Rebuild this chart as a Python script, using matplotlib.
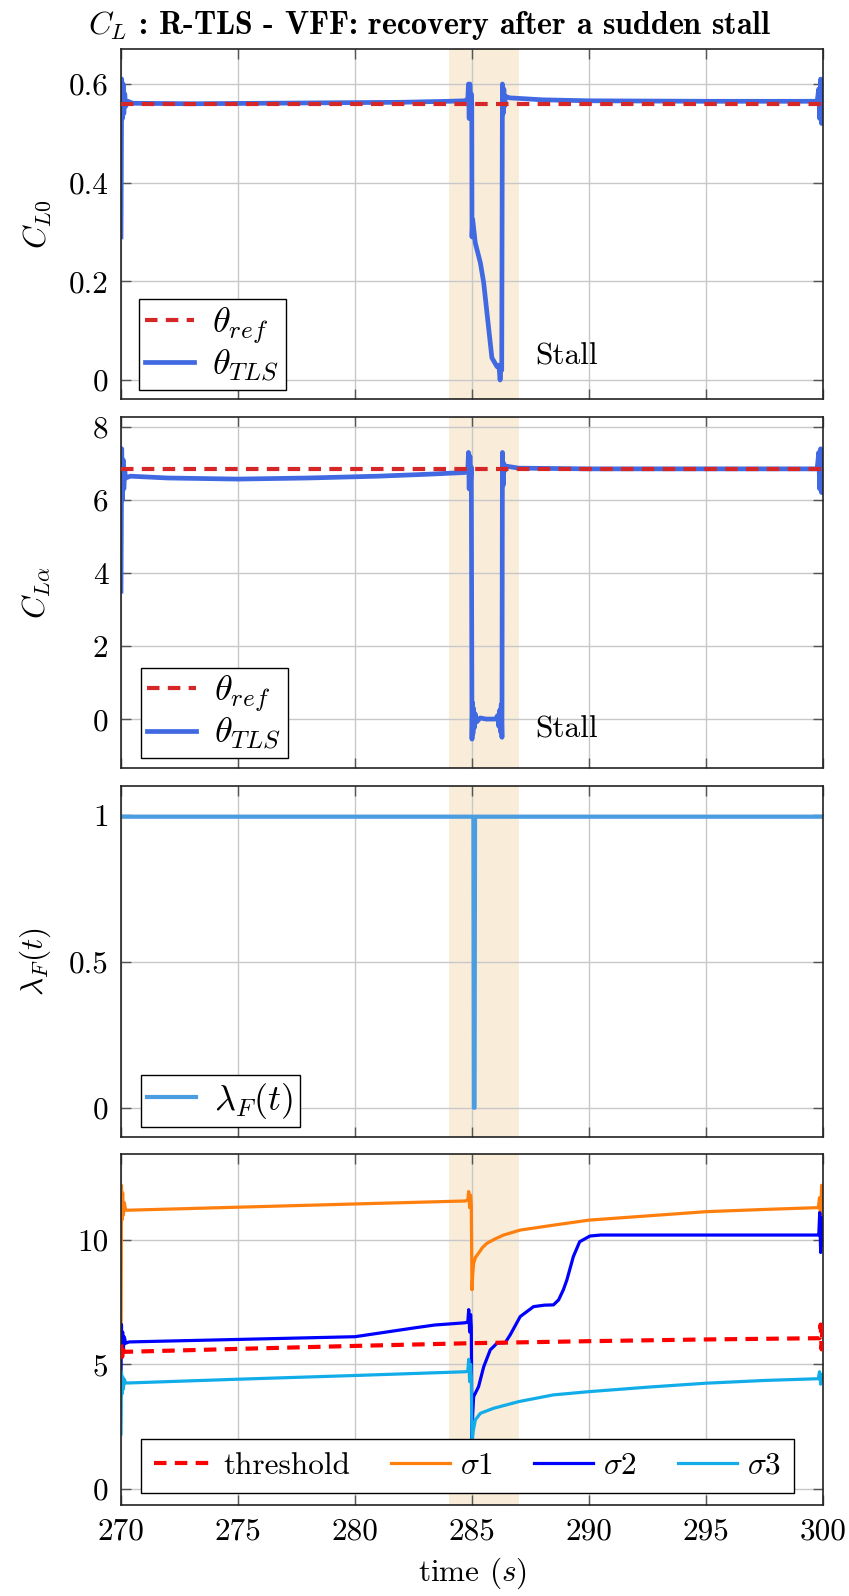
import matplotlib

matplotlib.use("Agg")

from matplotlib import pyplot as plt  # noqa: E402

plt.rcParams["font.family"] = "serif"
plt.rcParams["font.serif"] = ["cmr10", "DejaVu Serif"]
plt.rcParams["mathtext.fontset"] = "cm"
plt.rcParams["axes.formatter.use_mathtext"] = True

# --- data --------------------------------------------------------------
STALL_SPAN = (284.0, 287.0)

t_cl0 = [270.0, 270.03, 270.06, 270.09, 270.12, 270.16, 270.2, 270.3, 270.5, 273.0,
         276.0, 279.0, 282.0, 284.0, 284.7, 284.82, 284.85, 284.88, 284.91, 284.94,
         284.97, 284.99, 285.0, 285.03, 285.14, 285.36, 285.5, 285.64, 285.85, 286.07,
         286.15, 286.2, 286.24, 286.27, 286.3, 286.33, 286.36, 286.39, 286.43, 286.6,
         288.0, 290.0, 295.0, 299.75, 299.82, 299.86, 299.9, 299.94, 299.97, 300.0]
cl0_tls = [0.29, 0.61, 0.53, 0.60, 0.54, 0.58, 0.555, 0.565, 0.561, 0.560,
           0.561, 0.562, 0.563, 0.565, 0.566, 0.57, 0.60, 0.53, 0.60, 0.54,
           0.58, 0.56, 0.29, 0.325, 0.278, 0.237, 0.197, 0.136, 0.045, 0.027,
           0.03, 0.0, 0.025, 0.02, 0.60, 0.54, 0.59, 0.555, 0.575, 0.572,
           0.568, 0.566, 0.565, 0.565, 0.59, 0.53, 0.61, 0.52, 0.60, 0.56]
cl0_ref = 0.56

t_cla = [270.0, 270.03, 270.06, 270.09, 270.12, 270.16, 270.2, 270.4, 272.0, 275.0,
         278.0, 281.0, 283.0, 284.7, 284.82, 284.85, 284.88, 284.91, 284.94, 284.97,
         285.0, 285.02, 285.04, 285.06, 285.09, 285.13, 285.2, 285.35, 285.6, 286.0,
         286.1, 286.15, 286.19, 286.22, 286.25, 286.28, 286.3, 286.33, 286.36, 286.4,
         286.5, 287.0, 290.0, 295.0, 299.75, 299.82, 299.86, 299.9, 299.94, 299.97, 300.0]
cla_tls = [3.5, 7.4, 6.0, 7.1, 6.3, 6.8, 6.6, 6.65, 6.6, 6.57,
           6.6, 6.65, 6.7, 6.75, 6.8, 7.3, 6.3, 7.2, 6.5, 6.9,
           -0.55, 0.45, -0.4, 0.3, -0.25, 0.15, -0.08, 0.03, 0.0, 0.0,
           0.1, -0.2, 0.25, -0.35, 0.4, -0.5, 7.3, 6.4, 7.0, 6.8,
           6.92, 6.87, 6.85, 6.85, 6.85, 7.3, 6.3, 7.4, 6.2, 7.1, 6.8]
cla_ref = 6.85

t_lam = [270.0, 285.06, 285.08, 285.11, 285.13, 300.0]
lam_f = [0.995, 0.995, 0.0, 0.0, 0.995, 0.995]

t_thr = [270.0, 270.02, 270.05, 270.08, 270.12, 275.0, 280.0, 285.0, 290.0, 295.0,
         299.85, 299.9, 299.94, 299.97, 300.0]
thr = [5.3, 5.9, 5.3, 5.7, 5.5, 5.62, 5.74, 5.85, 5.93, 6.0,
       6.05, 6.6, 5.6, 6.5, 6.05]

t_s1 = [270.0, 270.02, 270.04, 270.07, 270.1, 270.14, 270.2, 270.35, 275.0, 280.0,
        284.7, 284.82, 284.86, 284.9, 284.94, 284.97, 285.0, 285.03, 285.07, 285.15,
        285.28, 285.45, 285.64, 286.0, 286.35, 287.06, 288.5, 290.0, 292.5, 295.0,
        297.5, 299.7, 299.8, 299.85, 299.9, 299.94, 299.97, 300.0]
s1 = [5.6, 12.2, 10.8, 11.9, 11.0, 11.5, 11.2, 11.2, 11.32, 11.45,
      11.57, 11.6, 11.95, 11.3, 11.8, 11.4, 8.0, 8.6, 9.07, 9.3,
      9.47, 9.7, 9.87, 10.05, 10.2, 10.4, 10.6, 10.8, 10.97, 11.14,
      11.23, 11.3, 11.3, 11.7, 10.8, 12.2, 10.9, 11.6]

t_s2 = [270.0, 270.02, 270.04, 270.07, 270.1, 270.14, 270.2, 270.35, 275.0, 280.0,
        282.5, 283.4, 284.7, 284.82, 284.86, 284.9, 284.94, 284.97, 285.0, 285.03,
        285.07, 285.28, 285.5, 285.78, 286.07, 286.42, 286.63, 287.06, 287.63, 288.1,
        288.48, 288.7, 288.9, 289.05, 289.33, 289.6, 290.04, 290.5, 295.0, 299.75,
        299.82, 299.86, 299.9, 299.94, 299.97, 300.0]
s2 = [4.6, 6.6, 5.3, 6.3, 5.6, 6.1, 5.85, 5.9, 6.0, 6.11,
      6.46, 6.58, 6.67, 6.7, 7.2, 6.3, 7.0, 6.5, 1.84, 3.0,
      3.7, 4.1, 4.9, 5.58, 5.85, 5.87, 6.18, 6.92, 7.32, 7.38,
      7.39, 7.59, 7.99, 8.38, 9.33, 9.93, 10.16, 10.2, 10.2, 10.2,
      10.2, 11.1, 9.5, 10.9, 9.8, 10.4]

t_s3 = [270.0, 270.02, 270.04, 270.07, 270.1, 270.14, 270.2, 270.35, 275.0, 280.0,
        284.7, 284.82, 284.86, 284.9, 284.94, 284.97, 285.0, 285.05, 285.14, 285.36,
        285.92, 287.0, 288.48, 290.0, 292.5, 295.0, 297.5, 299.8, 299.85, 299.9,
        299.94, 300.0]
s3 = [2.2, 4.7, 3.8, 4.5, 4.0, 4.4, 4.25, 4.25, 4.4, 4.55,
      4.7, 4.72, 5.2, 4.3, 5.0, 4.5, 1.8, 2.3, 2.76, 3.03,
      3.23, 3.5, 3.77, 3.9, 4.08, 4.24, 4.35, 4.42, 4.7, 4.2,
      4.6, 4.4]

x_ticks = [270, 275, 280, 285, 290, 295, 300]
# -----------------------------------------------------------------------

TLS_BLUE = "#4169e1"
REF_RED = "#d62728"
SHADE = "#f9ecd9"
FS = 22.5

fig = plt.figure(figsize=(8.49, 15.96), dpi=100)
left, width = 121 / 849, 702 / 849
panel_px = [(49, 399), (417, 768), (786, 1137), (1154, 1505)]
axes = []
for top, bottom in panel_px:
    axes.append(fig.add_axes([left, 1 - bottom / 1596, width, (bottom - top) / 1596]))


def style(ax, yticks, ylabels, ylim):
    ax.set_xlim(270, 300)
    ax.set_ylim(*ylim)
    ax.set_xticks(x_ticks)
    ax.set_yticks(yticks)
    ax.set_yticklabels(ylabels)
    ax.axvspan(*STALL_SPAN, color=SHADE, zorder=0.2, lw=0)
    ax.set_axisbelow(True)
    ax.grid(True, color="#c8c8c8", linewidth=1.0)
    ax.tick_params(direction="in", top=True, right=True, length=7, width=1,
                   color="#555555", labelsize=FS, pad=9)
    for spine in ax.spines.values():
        spine.set_color("#222222")
        spine.set_linewidth(1.2)
    ax.yaxis.set_label_coords(-0.097, 0.5)


leg_kw = dict(loc="lower left", fontsize=26, fancybox=False, edgecolor="black",
              framealpha=1, borderaxespad=0, handlelength=1.35, labelspacing=0.05,
              borderpad=0.17, handletextpad=0.5)

# C_L0
ax = axes[0]
ax.plot([270, 300], [cl0_ref, cl0_ref], color=REF_RED, lw=3, ls=(0, (3, 2)),
        label=r"$\theta_{ref}$", zorder=3)
ax.plot(t_cl0, cl0_tls, color=TLS_BLUE, lw=3.4, label=r"$\theta_{TLS}$", zorder=2)
style(ax, [0, 0.2, 0.4, 0.6], ["0", "0.2", "0.4", "0.6"], (-0.0385, 0.671))
ax.set_xticklabels([])
ax.set_ylabel(r"$C_{L0}$", fontsize=FS)
ax.text(287.7, 0.047, "Stall", fontsize=FS, va="center")
leg = ax.legend(bbox_to_anchor=(0.026, 0.026), **leg_kw)
leg.get_frame().set_linewidth(1)

# C_Lalpha
ax = axes[1]
ax.plot([270, 300], [cla_ref, cla_ref], color=REF_RED, lw=3, ls=(0, (3, 2)),
        label=r"$\theta_{ref}$", zorder=3)
ax.plot(t_cla, cla_tls, color=TLS_BLUE, lw=3.4, label=r"$\theta_{TLS}$", zorder=2)
style(ax, [0, 2, 4, 6, 8], ["0", "2", "4", "6", "8"], (-1.34, 8.27))
ax.set_xticklabels([])
ax.set_ylabel(r"$C_{L\alpha}$", fontsize=FS)
ax.text(287.7, -0.3, "Stall", fontsize=FS, va="center")
leg = ax.legend(bbox_to_anchor=(0.029, 0.028), **leg_kw)
leg.get_frame().set_linewidth(1)

# forgetting factor
ax = axes[2]
ax.plot(t_lam, lam_f, color="#4a9de0", lw=3, label=r"$\lambda_F(t)$")
style(ax, [0, 0.5, 1], ["0", "0.5", "1"], (-0.1, 1.1))
ax.set_xticklabels([])
ax.set_ylabel(r"$\lambda_F(t)$", fontsize=FS)
leg = ax.legend(bbox_to_anchor=(0.029, 0.028), **leg_kw)
leg.get_frame().set_linewidth(1)

# singular values
ax = axes[3]
ax.plot(t_thr, thr, color="#ff0000", lw=3, ls=(0, (3, 2)), label="threshold", zorder=3)
ax.plot(t_s1, s1, color="#ff7f0e", lw=2.3, label=r"$\sigma 1$", zorder=2)
ax.plot(t_s2, s2, color="#0000ff", lw=2.3, label=r"$\sigma 2$", zorder=2)
ax.plot(t_s3, s3, color="#12ade8", lw=2.3, label=r"$\sigma 3$", zorder=2)
style(ax, [0, 5, 10], ["0", "5", "10"], (-0.66, 13.46))
ax.set_xticklabels([str(t) for t in x_ticks])
ax.set_xlabel(r"time ($s$)", fontsize=FS)
ax.xaxis.set_label_coords(0.5, -0.145)
kw4 = dict(leg_kw)
kw4.update(fontsize=FS, handlelength=1.9, ncol=4, mode="expand", borderpad=0.42,
           labelspacing=0.2, handletextpad=0.3)
leg = ax.legend(bbox_to_anchor=(0.0285, 0.034, 0.93, 0.1), **kw4)
leg.get_frame().set_linewidth(1)

fig.text(0.506, 1 - 26 / 1596, r"$C_L$ : R-TLS - VFF: recovery after a sudden stall",
         ha="center", va="center", fontsize=23, family="cmb10")

fig.savefig("out.png", dpi=100)
